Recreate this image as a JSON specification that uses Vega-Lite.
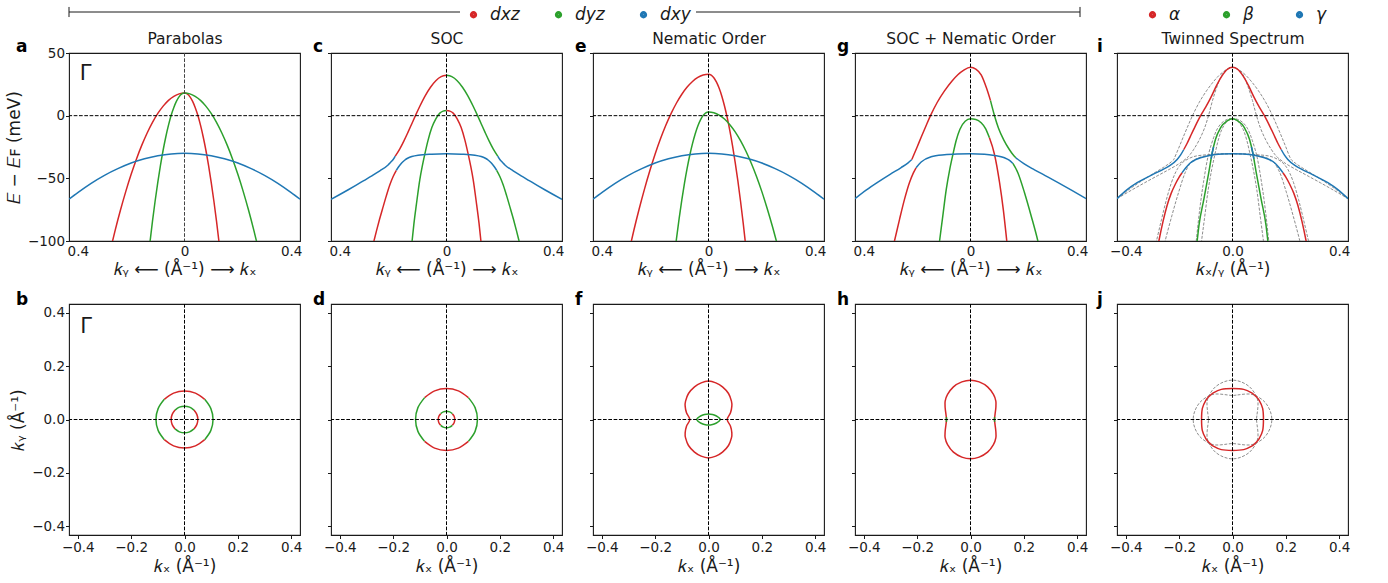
{
"$schema":"https://vega.github.io/schema/vega-lite/v6.json",
"background":"white",
"padding":{"left":4,"top":0,"right":5,"bottom":2},
"bounds":"flush",
"spacing":29,
"datasets":{
"A":[
{"s":"r","o":"dxz","k":-0.28,"E":-109},{"s":"r","o":"dxz","k":-0.26,"E":-91.5},{"s":"r","o":"dxz","k":-0.24,"E":-75.3},{"s":"r","o":"dxz","k":-0.22,"E":-60.4},{"s":"r","o":"dxz","k":-0.2,"E":-46.8},{"s":"r","o":"dxz","k":-0.18,"E":-34.5},{"s":"r","o":"dxz","k":-0.16,"E":-23.5},{"s":"r","o":"dxz","k":-0.14,"E":-13.8},{"s":"r","o":"dxz","k":-0.12,"E":-5.3},{"s":"r","o":"dxz","k":-0.1,"E":1.8},{"s":"r","o":"dxz","k":-0.08,"E":7.6},{"s":"r","o":"dxz","k":-0.06,"E":12.2},{"s":"r","o":"dxz","k":-0.04,"E":15.4},{"s":"r","o":"dxz","k":-0.02,"E":17.4},{"s":"r","o":"dxz","k":0,"E":18},{"s":"r","o":"dxz","k":0.01,"E":17.3},{"s":"r","o":"dxz","k":0.02,"E":15.2},{"s":"r","o":"dxz","k":0.03,"E":11.6},{"s":"r","o":"dxz","k":0.04,"E":6.6},{"s":"r","o":"dxz","k":0.05,"E":0.3},{"s":"r","o":"dxz","k":0.06,"E":-7.6},{"s":"r","o":"dxz","k":0.07,"E":-16.8},{"s":"r","o":"dxz","k":0.08,"E":-27.4},{"s":"r","o":"dxz","k":0.09,"E":-39.5},{"s":"r","o":"dxz","k":0.1,"E":-53},{"s":"r","o":"dxz","k":0.11,"E":-67.9},{"s":"r","o":"dxz","k":0.12,"E":-84.2},{"s":"r","o":"dxz","k":0.13,"E":-102},{"s":"r","o":"dxz","k":0.14,"E":-121},
{"s":"g","o":"dyz","k":-0.14,"E":-121},{"s":"g","o":"dyz","k":-0.13,"E":-102},{"s":"g","o":"dyz","k":-0.12,"E":-84.2},{"s":"g","o":"dyz","k":-0.11,"E":-67.9},{"s":"g","o":"dyz","k":-0.1,"E":-53},{"s":"g","o":"dyz","k":-0.09,"E":-39.5},{"s":"g","o":"dyz","k":-0.08,"E":-27.4},{"s":"g","o":"dyz","k":-0.07,"E":-16.8},{"s":"g","o":"dyz","k":-0.06,"E":-7.6},{"s":"g","o":"dyz","k":-0.05,"E":0.3},{"s":"g","o":"dyz","k":-0.04,"E":6.6},{"s":"g","o":"dyz","k":-0.03,"E":11.6},{"s":"g","o":"dyz","k":-0.02,"E":15.2},{"s":"g","o":"dyz","k":-0.01,"E":17.3},{"s":"g","o":"dyz","k":0,"E":18},{"s":"g","o":"dyz","k":0.02,"E":17.4},{"s":"g","o":"dyz","k":0.04,"E":15.4},{"s":"g","o":"dyz","k":0.06,"E":12.2},{"s":"g","o":"dyz","k":0.08,"E":7.6},{"s":"g","o":"dyz","k":0.1,"E":1.8},{"s":"g","o":"dyz","k":0.12,"E":-5.3},{"s":"g","o":"dyz","k":0.14,"E":-13.8},{"s":"g","o":"dyz","k":0.16,"E":-23.5},{"s":"g","o":"dyz","k":0.18,"E":-34.5},{"s":"g","o":"dyz","k":0.2,"E":-46.8},{"s":"g","o":"dyz","k":0.22,"E":-60.4},{"s":"g","o":"dyz","k":0.24,"E":-75.3},{"s":"g","o":"dyz","k":0.26,"E":-91.5},{"s":"g","o":"dyz","k":0.28,"E":-109},
{"s":"b","o":"dxy","k":-0.433,"E":-66.7},{"s":"b","o":"dxy","k":-0.4,"E":-61.4},{"s":"b","o":"dxy","k":-0.35,"E":-54},{"s":"b","o":"dxy","k":-0.3,"E":-47.6},{"s":"b","o":"dxy","k":-0.25,"E":-42.3},{"s":"b","o":"dxy","k":-0.2,"E":-37.8},{"s":"b","o":"dxy","k":-0.15,"E":-34.4},{"s":"b","o":"dxy","k":-0.1,"E":-32},{"s":"b","o":"dxy","k":-0.05,"E":-30.5},{"s":"b","o":"dxy","k":0,"E":-30},{"s":"b","o":"dxy","k":0.05,"E":-30.5},{"s":"b","o":"dxy","k":0.1,"E":-32},{"s":"b","o":"dxy","k":0.15,"E":-34.4},{"s":"b","o":"dxy","k":0.2,"E":-37.8},{"s":"b","o":"dxy","k":0.25,"E":-42.3},{"s":"b","o":"dxy","k":0.3,"E":-47.6},{"s":"b","o":"dxy","k":0.35,"E":-54},{"s":"b","o":"dxy","k":0.4,"E":-61.4},{"s":"b","o":"dxy","k":0.433,"E":-66.7}
],
"C":[
{"s":"c1a","o":"dxy","k":-0.433,"E":-66.8},{"s":"c1a","o":"dxy","k":-0.4,"E":-62.9},{"s":"c1a","o":"dxy","k":-0.37,"E":-59.3},{"s":"c1a","o":"dxy","k":-0.34,"E":-55.6},{"s":"c1a","o":"dxy","k":-0.31,"E":-51.8},{"s":"c1a","o":"dxy","k":-0.28,"E":-48},{"s":"c1a","o":"dxy","k":-0.25,"E":-44},{"s":"c1a","o":"dxy","k":-0.219,"E":-39.3},{"s":"c1a","o":"dxy","k":-0.21,"E":-37.3},{"s":"c1a","o":"dxy","k":-0.2,"E":-35},{"s":"c1a","o":"dxy","k":-0.192,"E":-32.3},
{"s":"c1b","o":"dxz","k":-0.192,"E":-32.3},{"s":"c1b","o":"dxz","k":-0.175,"E":-26.5},{"s":"c1b","o":"dxz","k":-0.16,"E":-20.3},{"s":"c1b","o":"dxz","k":-0.145,"E":-13.5},{"s":"c1b","o":"dxz","k":-0.13,"E":-6.4},{"s":"c1b","o":"dxz","k":-0.1165,"E":0},{"s":"c1b","o":"dxz","k":-0.1,"E":7.5},{"s":"c1b","o":"dxz","k":-0.08,"E":15.8},{"s":"c1b","o":"dxz","k":-0.06,"E":22.7},{"s":"c1b","o":"dxz","k":-0.04,"E":27.9},{"s":"c1b","o":"dxz","k":-0.02,"E":31.1},{"s":"c1b","o":"dxz","k":0,"E":32.2},
{"s":"c1c","o":"dyz","k":0,"E":32.2},{"s":"c1c","o":"dyz","k":0.02,"E":31.1},{"s":"c1c","o":"dyz","k":0.04,"E":27.9},{"s":"c1c","o":"dyz","k":0.06,"E":22.7},{"s":"c1c","o":"dyz","k":0.08,"E":15.8},{"s":"c1c","o":"dyz","k":0.1,"E":7.5},{"s":"c1c","o":"dyz","k":0.1165,"E":0},{"s":"c1c","o":"dyz","k":0.13,"E":-6.4},{"s":"c1c","o":"dyz","k":0.145,"E":-13.5},{"s":"c1c","o":"dyz","k":0.16,"E":-20.3},{"s":"c1c","o":"dyz","k":0.175,"E":-26.5},{"s":"c1c","o":"dyz","k":0.192,"E":-32.3},
{"s":"c1d","o":"dxy","k":0.192,"E":-32.3},{"s":"c1d","o":"dxy","k":0.2,"E":-35},{"s":"c1d","o":"dxy","k":0.21,"E":-37.3},{"s":"c1d","o":"dxy","k":0.219,"E":-39.3},{"s":"c1d","o":"dxy","k":0.25,"E":-44},{"s":"c1d","o":"dxy","k":0.28,"E":-48},{"s":"c1d","o":"dxy","k":0.31,"E":-51.8},{"s":"c1d","o":"dxy","k":0.34,"E":-55.6},{"s":"c1d","o":"dxy","k":0.37,"E":-59.3},{"s":"c1d","o":"dxy","k":0.4,"E":-62.9},{"s":"c1d","o":"dxy","k":0.433,"E":-66.8},
{"s":"c2a","o":"dyz","k":-0.136,"E":-114},{"s":"c2a","o":"dyz","k":-0.129,"E":-100},{"s":"c2a","o":"dyz","k":-0.122,"E":-86},{"s":"c2a","o":"dyz","k":-0.113,"E":-71},{"s":"c2a","o":"dyz","k":-0.1,"E":-51},{"s":"c2a","o":"dyz","k":-0.091,"E":-40.5},{"s":"c2a","o":"dyz","k":-0.0815,"E":-30.9},{"s":"c2a","o":"dyz","k":-0.069,"E":-19.5},{"s":"c2a","o":"dyz","k":-0.055,"E":-9.5},{"s":"c2a","o":"dyz","k":-0.04,"E":-2.5},{"s":"c2a","o":"dyz","k":-0.025,"E":2},{"s":"c2a","o":"dyz","k":-0.0125,"E":3.6},{"s":"c2a","o":"dyz","k":0,"E":4.1},
{"s":"c2b","o":"dxz","k":0,"E":4.1},{"s":"c2b","o":"dxz","k":0.0125,"E":3.6},{"s":"c2b","o":"dxz","k":0.025,"E":2},{"s":"c2b","o":"dxz","k":0.04,"E":-2.5},{"s":"c2b","o":"dxz","k":0.055,"E":-9.5},{"s":"c2b","o":"dxz","k":0.069,"E":-19.5},{"s":"c2b","o":"dxz","k":0.0815,"E":-30.9},{"s":"c2b","o":"dxz","k":0.091,"E":-40.5},{"s":"c2b","o":"dxz","k":0.1,"E":-51},{"s":"c2b","o":"dxz","k":0.113,"E":-71},{"s":"c2b","o":"dxz","k":0.122,"E":-86},{"s":"c2b","o":"dxz","k":0.129,"E":-100},{"s":"c2b","o":"dxz","k":0.136,"E":-114},
{"s":"c3a","o":"dxz","k":-0.282,"E":-109},{"s":"c3a","o":"dxz","k":-0.272,"E":-100},{"s":"c3a","o":"dxz","k":-0.262,"E":-91.5},{"s":"c3a","o":"dxz","k":-0.251,"E":-82.7},{"s":"c3a","o":"dxz","k":-0.238,"E":-73},{"s":"c3a","o":"dxz","k":-0.2256,"E":-64},{"s":"c3a","o":"dxz","k":-0.213,"E":-55.5},{"s":"c3a","o":"dxz","k":-0.2,"E":-48.5},{"s":"c3a","o":"dxz","k":-0.188,"E":-43.6},
{"s":"c3b","o":"dxy","k":-0.188,"E":-43.6},{"s":"c3b","o":"dxy","k":-0.18,"E":-41},{"s":"c3b","o":"dxy","k":-0.169,"E":-38},{"s":"c3b","o":"dxy","k":-0.157,"E":-35.6},{"s":"c3b","o":"dxy","k":-0.144,"E":-33.8},{"s":"c3b","o":"dxy","k":-0.13,"E":-32.6},{"s":"c3b","o":"dxy","k":-0.1065,"E":-31.5},{"s":"c3b","o":"dxy","k":-0.056,"E":-30.7},{"s":"c3b","o":"dxy","k":0,"E":-30.4},{"s":"c3b","o":"dxy","k":0.056,"E":-30.7},{"s":"c3b","o":"dxy","k":0.1065,"E":-31.5},{"s":"c3b","o":"dxy","k":0.13,"E":-32.6},{"s":"c3b","o":"dxy","k":0.144,"E":-33.8},{"s":"c3b","o":"dxy","k":0.157,"E":-35.6},{"s":"c3b","o":"dxy","k":0.169,"E":-38},{"s":"c3b","o":"dxy","k":0.18,"E":-41},{"s":"c3b","o":"dxy","k":0.188,"E":-43.6},
{"s":"c3c","o":"dyz","k":0.188,"E":-43.6},{"s":"c3c","o":"dyz","k":0.2,"E":-48.5},{"s":"c3c","o":"dyz","k":0.213,"E":-55.5},{"s":"c3c","o":"dyz","k":0.2256,"E":-64},{"s":"c3c","o":"dyz","k":0.238,"E":-73},{"s":"c3c","o":"dyz","k":0.251,"E":-82.7},{"s":"c3c","o":"dyz","k":0.262,"E":-91.5},{"s":"c3c","o":"dyz","k":0.272,"E":-100},{"s":"c3c","o":"dyz","k":0.282,"E":-109}
],
"E":[
{"s":"r","o":"dxz","k":-0.3,"E":-110.1},{"s":"r","o":"dxz","k":-0.28,"E":-91.6},{"s":"r","o":"dxz","k":-0.26,"E":-74.5},{"s":"r","o":"dxz","k":-0.24,"E":-58.6},{"s":"r","o":"dxz","k":-0.22,"E":-44},{"s":"r","o":"dxz","k":-0.2,"E":-30.6},{"s":"r","o":"dxz","k":-0.18,"E":-18.5},{"s":"r","o":"dxz","k":-0.16,"E":-7.7},{"s":"r","o":"dxz","k":-0.14,"E":1.8},{"s":"r","o":"dxz","k":-0.12,"E":10.1},{"s":"r","o":"dxz","k":-0.1,"E":17.1},{"s":"r","o":"dxz","k":-0.08,"E":22.8},{"s":"r","o":"dxz","k":-0.06,"E":27.3},{"s":"r","o":"dxz","k":-0.04,"E":30.5},{"s":"r","o":"dxz","k":-0.02,"E":32.4},{"s":"r","o":"dxz","k":0,"E":33},{"s":"r","o":"dxz","k":0.01,"E":32.3},{"s":"r","o":"dxz","k":0.02,"E":30.2},{"s":"r","o":"dxz","k":0.03,"E":26.7},{"s":"r","o":"dxz","k":0.04,"E":21.8},{"s":"r","o":"dxz","k":0.05,"E":15.5},{"s":"r","o":"dxz","k":0.06,"E":7.7},{"s":"r","o":"dxz","k":0.07,"E":-1.4},{"s":"r","o":"dxz","k":0.08,"E":-11.9},{"s":"r","o":"dxz","k":0.09,"E":-23.9},{"s":"r","o":"dxz","k":0.1,"E":-37.2},{"s":"r","o":"dxz","k":0.11,"E":-51.9},{"s":"r","o":"dxz","k":0.12,"E":-68.1},{"s":"r","o":"dxz","k":0.13,"E":-85.6},{"s":"r","o":"dxz","k":0.14,"E":-104.6},
{"s":"g","o":"dyz","k":-0.13,"E":-115.6},{"s":"g","o":"dyz","k":-0.12,"E":-98.1},{"s":"g","o":"dyz","k":-0.11,"E":-81.9},{"s":"g","o":"dyz","k":-0.1,"E":-67.2},{"s":"g","o":"dyz","k":-0.09,"E":-53.9},{"s":"g","o":"dyz","k":-0.08,"E":-41.9},{"s":"g","o":"dyz","k":-0.07,"E":-31.4},{"s":"g","o":"dyz","k":-0.06,"E":-22.3},{"s":"g","o":"dyz","k":-0.05,"E":-14.6},{"s":"g","o":"dyz","k":-0.04,"E":-8.2},{"s":"g","o":"dyz","k":-0.03,"E":-3.3},{"s":"g","o":"dyz","k":-0.02,"E":0.2},{"s":"g","o":"dyz","k":-0.01,"E":2.3},{"s":"g","o":"dyz","k":0,"E":3},{"s":"g","o":"dyz","k":0.02,"E":2.4},{"s":"g","o":"dyz","k":0.04,"E":0.5},{"s":"g","o":"dyz","k":0.06,"E":-2.7},{"s":"g","o":"dyz","k":0.08,"E":-7.2},{"s":"g","o":"dyz","k":0.1,"E":-12.9},{"s":"g","o":"dyz","k":0.12,"E":-19.9},{"s":"g","o":"dyz","k":0.14,"E":-28.2},{"s":"g","o":"dyz","k":0.16,"E":-37.7},{"s":"g","o":"dyz","k":0.18,"E":-48.5},{"s":"g","o":"dyz","k":0.2,"E":-60.6},{"s":"g","o":"dyz","k":0.22,"E":-74},{"s":"g","o":"dyz","k":0.24,"E":-88.6},{"s":"g","o":"dyz","k":0.26,"E":-104.5},
{"s":"b","o":"dxy","k":-0.433,"E":-66.7},{"s":"b","o":"dxy","k":-0.4,"E":-61.4},{"s":"b","o":"dxy","k":-0.35,"E":-54},{"s":"b","o":"dxy","k":-0.3,"E":-47.6},{"s":"b","o":"dxy","k":-0.25,"E":-42.3},{"s":"b","o":"dxy","k":-0.2,"E":-37.8},{"s":"b","o":"dxy","k":-0.15,"E":-34.4},{"s":"b","o":"dxy","k":-0.1,"E":-32},{"s":"b","o":"dxy","k":-0.05,"E":-30.5},{"s":"b","o":"dxy","k":0,"E":-30},{"s":"b","o":"dxy","k":0.05,"E":-30.5},{"s":"b","o":"dxy","k":0.1,"E":-32},{"s":"b","o":"dxy","k":0.15,"E":-34.4},{"s":"b","o":"dxy","k":0.2,"E":-37.8},{"s":"b","o":"dxy","k":0.25,"E":-42.3},{"s":"b","o":"dxy","k":0.3,"E":-47.6},{"s":"b","o":"dxy","k":0.35,"E":-54},{"s":"b","o":"dxy","k":0.4,"E":-61.4},{"s":"b","o":"dxy","k":0.433,"E":-66.7}
],
"G":[
{"s":"g1a","b":"b1","o":"dxy","k":-0.433,"E":-66.2},{"s":"g1a","b":"b1","o":"dxy","k":-0.39,"E":-59.2},{"s":"g1a","b":"b1","o":"dxy","k":-0.35,"E":-53.4},{"s":"g1a","b":"b1","o":"dxy","k":-0.3,"E":-46.6},{"s":"g1a","b":"b1","o":"dxy","k":-0.26,"E":-41.4},{"s":"g1a","b":"b1","o":"dxy","k":-0.235,"E":-37.8},{"s":"g1a","b":"b1","o":"dxy","k":-0.22,"E":-35},
{"s":"g1b","b":"b1","o":"dxz","k":-0.22,"E":-35},{"s":"g1b","b":"b1","o":"dxz","k":-0.2,"E":-25},{"s":"g1b","b":"b1","o":"dxz","k":-0.185,"E":-17.2},{"s":"g1b","b":"b1","o":"dxz","k":-0.165,"E":-7.2},{"s":"g1b","b":"b1","o":"dxz","k":-0.15,"E":0},{"s":"g1b","b":"b1","o":"dxz","k":-0.125,"E":10.5},{"s":"g1b","b":"b1","o":"dxz","k":-0.0975,"E":19.8},{"s":"g1b","b":"b1","o":"dxz","k":-0.07,"E":27.5},{"s":"g1b","b":"b1","o":"dxz","k":-0.0475,"E":32.7},{"s":"g1b","b":"b1","o":"dxz","k":-0.025,"E":36.4},{"s":"g1b","b":"b1","o":"dxz","k":0,"E":38.6},{"s":"g1b","b":"b1","o":"dxz","k":0.02,"E":37.2},{"s":"g1b","b":"b1","o":"dxz","k":0.04,"E":32.5},{"s":"g1b","b":"b1","o":"dxz","k":0.06,"E":22},{"s":"g1b","b":"b1","o":"dxz","k":0.075,"E":12},
{"s":"g1c","b":"b1","o":"dyz","k":0.075,"E":12},{"s":"g1c","b":"b1","o":"dyz","k":0.09,"E":0},{"s":"g1c","b":"b1","o":"dyz","k":0.105,"E":-10},{"s":"g1c","b":"b1","o":"dyz","k":0.125,"E":-19.5},{"s":"g1c","b":"b1","o":"dyz","k":0.145,"E":-26.8},{"s":"g1c","b":"b1","o":"dyz","k":0.159,"E":-31},{"s":"g1c","b":"b1","o":"dyz","k":0.17,"E":-33.6},
{"s":"g1d","b":"b1","o":"dxy","k":0.17,"E":-33.6},{"s":"g1d","b":"b1","o":"dxy","k":0.2,"E":-38.3},{"s":"g1d","b":"b1","o":"dxy","k":0.24,"E":-43.2},{"s":"g1d","b":"b1","o":"dxy","k":0.28,"E":-47.8},{"s":"g1d","b":"b1","o":"dxy","k":0.33,"E":-53.6},{"s":"g1d","b":"b1","o":"dxy","k":0.38,"E":-59.6},{"s":"g1d","b":"b1","o":"dxy","k":0.433,"E":-66.2},
{"s":"g2a","b":"b2","o":"dyz","k":-0.125,"E":-116},{"s":"g2a","b":"b2","o":"dyz","k":-0.116,"E":-100},{"s":"g2a","b":"b2","o":"dyz","k":-0.105,"E":-82},{"s":"g2a","b":"b2","o":"dyz","k":-0.091,"E":-59},{"s":"g2a","b":"b2","o":"dyz","k":-0.078,"E":-43},{"s":"g2a","b":"b2","o":"dyz","k":-0.066,"E":-31},{"s":"g2a","b":"b2","o":"dyz","k":-0.054,"E":-20},{"s":"g2a","b":"b2","o":"dyz","k":-0.04,"E":-11},{"s":"g2a","b":"b2","o":"dyz","k":-0.02,"E":-4.5},{"s":"g2a","b":"b2","o":"dyz","k":0,"E":-2.5},{"s":"g2a","b":"b2","o":"dyz","k":0.02,"E":-3},{"s":"g2a","b":"b2","o":"dyz","k":0.04,"E":-5.7},{"s":"g2a","b":"b2","o":"dyz","k":0.057,"E":-10.5},{"s":"g2a","b":"b2","o":"dyz","k":0.071,"E":-17.7},
{"s":"g2b","b":"b2","o":"dxz","k":0.071,"E":-17.7},{"s":"g2b","b":"b2","o":"dxz","k":0.09,"E":-31},{"s":"g2b","b":"b2","o":"dxz","k":0.109,"E":-53.5},{"s":"g2b","b":"b2","o":"dxz","k":0.123,"E":-75},{"s":"g2b","b":"b2","o":"dxz","k":0.136,"E":-100},{"s":"g2b","b":"b2","o":"dxz","k":0.145,"E":-118},
{"s":"g3a","b":"b3","o":"dxz","k":-0.295,"E":-109},{"s":"g3a","b":"b3","o":"dxz","k":-0.285,"E":-100},{"s":"g3a","b":"b3","o":"dxz","k":-0.266,"E":-82.7},{"s":"g3a","b":"b3","o":"dxz","k":-0.2475,"E":-66.8},{"s":"g3a","b":"b3","o":"dxz","k":-0.229,"E":-53.5},{"s":"g3a","b":"b3","o":"dxz","k":-0.215,"E":-46},{"s":"g3a","b":"b3","o":"dxz","k":-0.204,"E":-41.6},
{"s":"g3b","b":"b3","o":"dxy","k":-0.204,"E":-41.6},{"s":"g3b","b":"b3","o":"dxy","k":-0.185,"E":-37},{"s":"g3b","b":"b3","o":"dxy","k":-0.1475,"E":-32.8},{"s":"g3b","b":"b3","o":"dxy","k":-0.0975,"E":-31.2},{"s":"g3b","b":"b3","o":"dxy","k":-0.05,"E":-30.6},{"s":"g3b","b":"b3","o":"dxy","k":0,"E":-30.4},{"s":"g3b","b":"b3","o":"dxy","k":0.0525,"E":-30.7},{"s":"g3b","b":"b3","o":"dxy","k":0.09,"E":-31.7},{"s":"g3b","b":"b3","o":"dxy","k":0.1275,"E":-33.6},{"s":"g3b","b":"b3","o":"dxy","k":0.145,"E":-35.5},{"s":"g3b","b":"b3","o":"dxy","k":0.159,"E":-38.1},
{"s":"g3c","b":"b3","o":"dyz","k":0.159,"E":-38.1},{"s":"g3c","b":"b3","o":"dyz","k":0.1775,"E":-45.5},{"s":"g3c","b":"b3","o":"dyz","k":0.2025,"E":-61.5},{"s":"g3c","b":"b3","o":"dyz","k":0.2275,"E":-80},{"s":"g3c","b":"b3","o":"dyz","k":0.2525,"E":-100},{"s":"g3c","b":"b3","o":"dyz","k":0.262,"E":-109}
],
"GM":[
{"b":"m1","k":0.433,"E":-66.2},{"b":"m1","k":0.39,"E":-59.2},{"b":"m1","k":0.35,"E":-53.4},{"b":"m1","k":0.3,"E":-46.6},{"b":"m1","k":0.26,"E":-41.4},{"b":"m1","k":0.235,"E":-37.8},{"b":"m1","k":0.22,"E":-35},{"b":"m1","k":0.2,"E":-25},{"b":"m1","k":0.185,"E":-17.2},{"b":"m1","k":0.165,"E":-7.2},{"b":"m1","k":0.15,"E":0},{"b":"m1","k":0.125,"E":10.5},{"b":"m1","k":0.0975,"E":19.8},{"b":"m1","k":0.07,"E":27.5},{"b":"m1","k":0.0475,"E":32.7},{"b":"m1","k":0.025,"E":36.4},{"b":"m1","k":0,"E":38.6},{"b":"m1","k":-0.02,"E":37.2},{"b":"m1","k":-0.04,"E":32.5},{"b":"m1","k":-0.06,"E":22},{"b":"m1","k":-0.075,"E":12},{"b":"m1","k":-0.09,"E":0},{"b":"m1","k":-0.105,"E":-10},{"b":"m1","k":-0.125,"E":-19.5},{"b":"m1","k":-0.145,"E":-26.8},{"b":"m1","k":-0.159,"E":-31},{"b":"m1","k":-0.17,"E":-33.6},{"b":"m1","k":-0.2,"E":-38.3},{"b":"m1","k":-0.24,"E":-43.2},{"b":"m1","k":-0.28,"E":-47.8},{"b":"m1","k":-0.33,"E":-53.6},{"b":"m1","k":-0.38,"E":-59.6},{"b":"m1","k":-0.433,"E":-66.2},
{"b":"m2","k":0.125,"E":-116},{"b":"m2","k":0.116,"E":-100},{"b":"m2","k":0.105,"E":-82},{"b":"m2","k":0.091,"E":-59},{"b":"m2","k":0.078,"E":-43},{"b":"m2","k":0.066,"E":-31},{"b":"m2","k":0.054,"E":-20},{"b":"m2","k":0.04,"E":-11},{"b":"m2","k":0.02,"E":-4.5},{"b":"m2","k":0,"E":-2.5},{"b":"m2","k":-0.02,"E":-3},{"b":"m2","k":-0.04,"E":-5.7},{"b":"m2","k":-0.057,"E":-10.5},{"b":"m2","k":-0.071,"E":-17.7},{"b":"m2","k":-0.09,"E":-31},{"b":"m2","k":-0.109,"E":-53.5},{"b":"m2","k":-0.123,"E":-75},{"b":"m2","k":-0.136,"E":-100},{"b":"m2","k":-0.145,"E":-118},
{"b":"m3","k":0.295,"E":-109},{"b":"m3","k":0.285,"E":-100},{"b":"m3","k":0.266,"E":-82.7},{"b":"m3","k":0.2475,"E":-66.8},{"b":"m3","k":0.229,"E":-53.5},{"b":"m3","k":0.215,"E":-46},{"b":"m3","k":0.204,"E":-41.6},{"b":"m3","k":0.185,"E":-37},{"b":"m3","k":0.1475,"E":-32.8},{"b":"m3","k":0.0975,"E":-31.2},{"b":"m3","k":0.05,"E":-30.6},{"b":"m3","k":0,"E":-30.4},{"b":"m3","k":-0.0525,"E":-30.7},{"b":"m3","k":-0.09,"E":-31.7},{"b":"m3","k":-0.1275,"E":-33.6},{"b":"m3","k":-0.145,"E":-35.5},{"b":"m3","k":-0.159,"E":-38.1},{"b":"m3","k":-0.1775,"E":-45.5},{"b":"m3","k":-0.2025,"E":-61.5},{"b":"m3","k":-0.2275,"E":-80},{"b":"m3","k":-0.2525,"E":-100},{"b":"m3","k":-0.262,"E":-109}
],
"I":[
{"s":"ia1","o":"γ","k":-0.433,"E":-66.2},{"s":"ia1","o":"γ","k":-0.395,"E":-59},{"s":"ia1","o":"γ","k":-0.3575,"E":-53.5},{"s":"ia1","o":"γ","k":-0.295,"E":-46.5},{"s":"ia1","o":"γ","k":-0.26,"E":-42.8},{"s":"ia1","o":"γ","k":-0.2325,"E":-39.5},{"s":"ia1","o":"γ","k":-0.2075,"E":-34.9},{"s":"ia1","o":"γ","k":-0.195,"E":-31.5},{"s":"ia1","o":"γ","k":-0.1825,"E":-27},
{"s":"ia2","o":"α","k":-0.1825,"E":-27},{"s":"ia2","o":"α","k":-0.17,"E":-22},{"s":"ia2","o":"α","k":-0.1575,"E":-16.3},{"s":"ia2","o":"α","k":-0.14,"E":-8.5},{"s":"ia2","o":"α","k":-0.12,"E":-0.2},{"s":"ia2","o":"α","k":-0.1,"E":7},{"s":"ia2","o":"α","k":-0.08,"E":15},{"s":"ia2","o":"α","k":-0.06,"E":24},{"s":"ia2","o":"α","k":-0.04,"E":31.5},{"s":"ia2","o":"α","k":-0.02,"E":36.8},{"s":"ia2","o":"α","k":0,"E":38.6},{"s":"ia2","o":"α","k":0.02,"E":36.8},{"s":"ia2","o":"α","k":0.04,"E":31.5},{"s":"ia2","o":"α","k":0.06,"E":24},{"s":"ia2","o":"α","k":0.08,"E":15},{"s":"ia2","o":"α","k":0.1,"E":7},{"s":"ia2","o":"α","k":0.12,"E":-0.2},{"s":"ia2","o":"α","k":0.14,"E":-8.5},{"s":"ia2","o":"α","k":0.1575,"E":-16.3},{"s":"ia2","o":"α","k":0.17,"E":-22},{"s":"ia2","o":"α","k":0.1825,"E":-27},
{"s":"ia3","o":"γ","k":0.1825,"E":-27},{"s":"ia3","o":"γ","k":0.195,"E":-31.5},{"s":"ia3","o":"γ","k":0.2075,"E":-34.9},{"s":"ia3","o":"γ","k":0.2325,"E":-39.5},{"s":"ia3","o":"γ","k":0.26,"E":-42.8},{"s":"ia3","o":"γ","k":0.295,"E":-46.5},{"s":"ia3","o":"γ","k":0.3575,"E":-53.5},{"s":"ia3","o":"γ","k":0.395,"E":-59},{"s":"ia3","o":"γ","k":0.433,"E":-66.2},
{"s":"ib","o":"β","k":-0.14,"E":-112},{"s":"ib","o":"β","k":-0.1325,"E":-100},{"s":"ib","o":"β","k":-0.126,"E":-88},{"s":"ib","o":"β","k":-0.1075,"E":-66.8},{"s":"ib","o":"β","k":-0.089,"E":-45.5},{"s":"ib","o":"β","k":-0.076,"E":-29.6},{"s":"ib","o":"β","k":-0.064,"E":-19},{"s":"ib","o":"β","k":-0.045,"E":-9.7},{"s":"ib","o":"β","k":-0.02,"E":-4.2},{"s":"ib","o":"β","k":0,"E":-2.5},{"s":"ib","o":"β","k":0.02,"E":-4.2},{"s":"ib","o":"β","k":0.045,"E":-9.7},{"s":"ib","o":"β","k":0.064,"E":-19},{"s":"ib","o":"β","k":0.076,"E":-29.6},{"s":"ib","o":"β","k":0.089,"E":-45.5},{"s":"ib","o":"β","k":0.1075,"E":-66.8},{"s":"ib","o":"β","k":0.126,"E":-88},{"s":"ib","o":"β","k":0.1325,"E":-100},{"s":"ib","o":"β","k":0.14,"E":-112},
{"s":"ig1","o":"α","k":-0.285,"E":-110},{"s":"ig1","o":"α","k":-0.276,"E":-100},{"s":"ig1","o":"α","k":-0.26,"E":-84},{"s":"ig1","o":"α","k":-0.245,"E":-71.5},{"s":"ig1","o":"α","k":-0.23,"E":-62},{"s":"ig1","o":"α","k":-0.214,"E":-54.5},{"s":"ig1","o":"α","k":-0.2,"E":-49},{"s":"ig1","o":"α","k":-0.189,"E":-45.5},
{"s":"ig2","o":"γ","k":-0.189,"E":-45.5},{"s":"ig2","o":"γ","k":-0.175,"E":-41.5},{"s":"ig2","o":"γ","k":-0.1575,"E":-37.6},{"s":"ig2","o":"γ","k":-0.14,"E":-35.3},{"s":"ig2","o":"γ","k":-0.12,"E":-33.6},{"s":"ig2","o":"γ","k":-0.0825,"E":-31.5},{"s":"ig2","o":"γ","k":-0.04,"E":-30.6},{"s":"ig2","o":"γ","k":0,"E":-30.4},{"s":"ig2","o":"γ","k":0.04,"E":-30.6},{"s":"ig2","o":"γ","k":0.0825,"E":-31.5},{"s":"ig2","o":"γ","k":0.12,"E":-33.6},{"s":"ig2","o":"γ","k":0.14,"E":-35.3},{"s":"ig2","o":"γ","k":0.1575,"E":-37.6},{"s":"ig2","o":"γ","k":0.175,"E":-41.5},{"s":"ig2","o":"γ","k":0.189,"E":-45.5},
{"s":"ig3","o":"α","k":0.189,"E":-45.5},{"s":"ig3","o":"α","k":0.2,"E":-49},{"s":"ig3","o":"α","k":0.214,"E":-54.5},{"s":"ig3","o":"α","k":0.23,"E":-62},{"s":"ig3","o":"α","k":0.245,"E":-71.5},{"s":"ig3","o":"α","k":0.26,"E":-84},{"s":"ig3","o":"α","k":0.276,"E":-100},{"s":"ig3","o":"α","k":0.285,"E":-110},
{"s":"ibx1","o":"γ","k":-0.08,"E":-34.5},{"s":"ibx1","o":"γ","k":-0.076,"E":-29.6},{"s":"ibx1","o":"γ","k":-0.071,"E":-25},
{"s":"ibx2","o":"γ","k":0.071,"E":-25},{"s":"ibx2","o":"γ","k":0.076,"E":-29.6},{"s":"ibx2","o":"γ","k":0.08,"E":-34.5}
],
"B":[
{"s":"o1","o":"dyz","n":0,"x":0.0757,"y":-0.0757},{"s":"o1","o":"dyz","n":1,"x":0.0989,"y":-0.0409},{"s":"o1","o":"dyz","n":2,"x":0.107,"y":0},{"s":"o1","o":"dyz","n":3,"x":0.0989,"y":0.0409},{"s":"o1","o":"dyz","n":4,"x":0.0757,"y":0.0757},
{"s":"o2","o":"dxz","n":0,"x":0.0757,"y":0.0757},{"s":"o2","o":"dxz","n":1,"x":0.0409,"y":0.0989},{"s":"o2","o":"dxz","n":2,"x":0,"y":0.107},{"s":"o2","o":"dxz","n":3,"x":-0.0409,"y":0.0989},{"s":"o2","o":"dxz","n":4,"x":-0.0757,"y":0.0757},
{"s":"o3","o":"dyz","n":0,"x":-0.0757,"y":0.0757},{"s":"o3","o":"dyz","n":1,"x":-0.0989,"y":0.0409},{"s":"o3","o":"dyz","n":2,"x":-0.107,"y":0},{"s":"o3","o":"dyz","n":3,"x":-0.0989,"y":-0.0409},{"s":"o3","o":"dyz","n":4,"x":-0.0757,"y":-0.0757},
{"s":"o4","o":"dxz","n":0,"x":-0.0757,"y":-0.0757},{"s":"o4","o":"dxz","n":1,"x":-0.0409,"y":-0.0989},{"s":"o4","o":"dxz","n":2,"x":0,"y":-0.107},{"s":"o4","o":"dxz","n":3,"x":0.0409,"y":-0.0989},{"s":"o4","o":"dxz","n":4,"x":0.0757,"y":-0.0757},
{"s":"i1","o":"dxz","n":0,"x":0.0354,"y":-0.0354},{"s":"i1","o":"dxz","n":1,"x":0.0462,"y":-0.0191},{"s":"i1","o":"dxz","n":2,"x":0.05,"y":0},{"s":"i1","o":"dxz","n":3,"x":0.0462,"y":0.0191},{"s":"i1","o":"dxz","n":4,"x":0.0354,"y":0.0354},
{"s":"i2","o":"dyz","n":0,"x":0.0354,"y":0.0354},{"s":"i2","o":"dyz","n":1,"x":0.0191,"y":0.0462},{"s":"i2","o":"dyz","n":2,"x":0,"y":0.05},{"s":"i2","o":"dyz","n":3,"x":-0.0191,"y":0.0462},{"s":"i2","o":"dyz","n":4,"x":-0.0354,"y":0.0354},
{"s":"i3","o":"dxz","n":0,"x":-0.0354,"y":0.0354},{"s":"i3","o":"dxz","n":1,"x":-0.0462,"y":0.0191},{"s":"i3","o":"dxz","n":2,"x":-0.05,"y":0},{"s":"i3","o":"dxz","n":3,"x":-0.0462,"y":-0.0191},{"s":"i3","o":"dxz","n":4,"x":-0.0354,"y":-0.0354},
{"s":"i4","o":"dyz","n":0,"x":-0.0354,"y":-0.0354},{"s":"i4","o":"dyz","n":1,"x":-0.0191,"y":-0.0462},{"s":"i4","o":"dyz","n":2,"x":0,"y":-0.05},{"s":"i4","o":"dyz","n":3,"x":0.0191,"y":-0.0462},{"s":"i4","o":"dyz","n":4,"x":0.0354,"y":-0.0354}
],
"D":[
{"s":"o1","o":"dyz","n":0,"x":0.082,"y":-0.082},{"s":"o1","o":"dyz","n":1,"x":0.1072,"y":-0.0444},{"s":"o1","o":"dyz","n":2,"x":0.116,"y":0},{"s":"o1","o":"dyz","n":3,"x":0.1072,"y":0.0444},{"s":"o1","o":"dyz","n":4,"x":0.082,"y":0.082},
{"s":"o2","o":"dxz","n":0,"x":0.082,"y":0.082},{"s":"o2","o":"dxz","n":1,"x":0.0444,"y":0.1072},{"s":"o2","o":"dxz","n":2,"x":0,"y":0.116},{"s":"o2","o":"dxz","n":3,"x":-0.0444,"y":0.1072},{"s":"o2","o":"dxz","n":4,"x":-0.082,"y":0.082},
{"s":"o3","o":"dyz","n":0,"x":-0.082,"y":0.082},{"s":"o3","o":"dyz","n":1,"x":-0.1072,"y":0.0444},{"s":"o3","o":"dyz","n":2,"x":-0.116,"y":0},{"s":"o3","o":"dyz","n":3,"x":-0.1072,"y":-0.0444},{"s":"o3","o":"dyz","n":4,"x":-0.082,"y":-0.082},
{"s":"o4","o":"dxz","n":0,"x":-0.082,"y":-0.082},{"s":"o4","o":"dxz","n":1,"x":-0.0444,"y":-0.1072},{"s":"o4","o":"dxz","n":2,"x":0,"y":-0.116},{"s":"o4","o":"dxz","n":3,"x":0.0444,"y":-0.1072},{"s":"o4","o":"dxz","n":4,"x":0.082,"y":-0.082},
{"s":"i1","o":"dxz","n":0,"x":0.0219,"y":-0.0219},{"s":"i1","o":"dxz","n":1,"x":0.0286,"y":-0.0119},{"s":"i1","o":"dxz","n":2,"x":0.031,"y":0},{"s":"i1","o":"dxz","n":3,"x":0.0286,"y":0.0119},{"s":"i1","o":"dxz","n":4,"x":0.0219,"y":0.0219},
{"s":"i2","o":"dyz","n":0,"x":0.0219,"y":0.0219},{"s":"i2","o":"dyz","n":1,"x":0.0119,"y":0.0286},{"s":"i2","o":"dyz","n":2,"x":0,"y":0.031},{"s":"i2","o":"dyz","n":3,"x":-0.0119,"y":0.0286},{"s":"i2","o":"dyz","n":4,"x":-0.0219,"y":0.0219},
{"s":"i3","o":"dxz","n":0,"x":-0.0219,"y":0.0219},{"s":"i3","o":"dxz","n":1,"x":-0.0286,"y":0.0119},{"s":"i3","o":"dxz","n":2,"x":-0.031,"y":0},{"s":"i3","o":"dxz","n":3,"x":-0.0286,"y":-0.0119},{"s":"i3","o":"dxz","n":4,"x":-0.0219,"y":-0.0219},
{"s":"i4","o":"dyz","n":0,"x":-0.0219,"y":-0.0219},{"s":"i4","o":"dyz","n":1,"x":-0.0119,"y":-0.0286},{"s":"i4","o":"dyz","n":2,"x":0,"y":-0.031},{"s":"i4","o":"dyz","n":3,"x":0.0119,"y":-0.0286},{"s":"i4","o":"dyz","n":4,"x":0.0219,"y":-0.0219}
],
"F":[
{"s":"p","o":"dxz","n":0,"x":0.07,"y":0},{"s":"p","o":"dxz","n":1,"x":0.0825,"y":0.025},{"s":"p","o":"dxz","n":2,"x":0.0875,"y":0.05},{"s":"p","o":"dxz","n":3,"x":0.086,"y":0.069},{"s":"p","o":"dxz","n":4,"x":0.075,"y":0.0975},{"s":"p","o":"dxz","n":5,"x":0.0525,"y":0.1225},{"s":"p","o":"dxz","n":6,"x":0.0275,"y":0.1375},{"s":"p","o":"dxz","n":7,"x":0,"y":0.144},{"s":"p","o":"dxz","n":8,"x":-0.0275,"y":0.1375},{"s":"p","o":"dxz","n":9,"x":-0.0525,"y":0.1225},{"s":"p","o":"dxz","n":10,"x":-0.075,"y":0.0975},{"s":"p","o":"dxz","n":11,"x":-0.086,"y":0.069},{"s":"p","o":"dxz","n":12,"x":-0.0875,"y":0.05},{"s":"p","o":"dxz","n":13,"x":-0.0825,"y":0.025},{"s":"p","o":"dxz","n":14,"x":-0.07,"y":0},{"s":"p","o":"dxz","n":15,"x":-0.0825,"y":-0.025},{"s":"p","o":"dxz","n":16,"x":-0.0875,"y":-0.05},{"s":"p","o":"dxz","n":17,"x":-0.086,"y":-0.069},{"s":"p","o":"dxz","n":18,"x":-0.075,"y":-0.0975},{"s":"p","o":"dxz","n":19,"x":-0.0525,"y":-0.1225},{"s":"p","o":"dxz","n":20,"x":-0.0275,"y":-0.1375},{"s":"p","o":"dxz","n":21,"x":0,"y":-0.144},{"s":"p","o":"dxz","n":22,"x":0.0275,"y":-0.1375},{"s":"p","o":"dxz","n":23,"x":0.0525,"y":-0.1225},{"s":"p","o":"dxz","n":24,"x":0.075,"y":-0.0975},{"s":"p","o":"dxz","n":25,"x":0.086,"y":-0.069},{"s":"p","o":"dxz","n":26,"x":0.0875,"y":-0.05},{"s":"p","o":"dxz","n":27,"x":0.0825,"y":-0.025},
{"s":"e","o":"dyz","n":0,"x":0.044,"y":0},{"s":"e","o":"dyz","n":1,"x":0.038,"y":0.0075},{"s":"e","o":"dyz","n":2,"x":0.028,"y":0.014},{"s":"e","o":"dyz","n":3,"x":0.015,"y":0.019},{"s":"e","o":"dyz","n":4,"x":0,"y":0.021},{"s":"e","o":"dyz","n":5,"x":-0.015,"y":0.019},{"s":"e","o":"dyz","n":6,"x":-0.028,"y":0.014},{"s":"e","o":"dyz","n":7,"x":-0.038,"y":0.0075},{"s":"e","o":"dyz","n":8,"x":-0.044,"y":0},{"s":"e","o":"dyz","n":9,"x":-0.038,"y":-0.0075},{"s":"e","o":"dyz","n":10,"x":-0.028,"y":-0.014},{"s":"e","o":"dyz","n":11,"x":-0.015,"y":-0.019},{"s":"e","o":"dyz","n":12,"x":0,"y":-0.021},{"s":"e","o":"dyz","n":13,"x":0.015,"y":-0.019},{"s":"e","o":"dyz","n":14,"x":0.028,"y":-0.014},{"s":"e","o":"dyz","n":15,"x":0.038,"y":-0.0075}
],
"H":[
{"s":"c","o":"dxz","n":0,"x":0.09,"y":0},{"s":"c","o":"dxz","n":1,"x":0.092,"y":0.019},{"s":"c","o":"dxz","n":2,"x":0.095,"y":0.044},{"s":"c","o":"dxz","n":3,"x":0.095,"y":0.069},{"s":"c","o":"dxz","n":4,"x":0.086,"y":0.094},{"s":"c","o":"dxz","n":5,"x":0.064,"y":0.1225},{"s":"c","o":"dxz","n":6,"x":0.0325,"y":0.141},{"s":"c","o":"dxz","n":7,"x":0,"y":0.1475},{"s":"c","o":"dxz","n":8,"x":-0.0325,"y":0.141},{"s":"c","o":"dxz","n":9,"x":-0.064,"y":0.1225},{"s":"c","o":"dxz","n":10,"x":-0.086,"y":0.094},{"s":"c","o":"dxz","n":11,"x":-0.095,"y":0.069},{"s":"c","o":"dxz","n":12,"x":-0.095,"y":0.044},{"s":"c","o":"dxz","n":13,"x":-0.092,"y":0.019},{"s":"c","o":"dxz","n":14,"x":-0.09,"y":0},{"s":"c","o":"dxz","n":15,"x":-0.092,"y":-0.019},{"s":"c","o":"dxz","n":16,"x":-0.095,"y":-0.044},{"s":"c","o":"dxz","n":17,"x":-0.095,"y":-0.069},{"s":"c","o":"dxz","n":18,"x":-0.086,"y":-0.094},{"s":"c","o":"dxz","n":19,"x":-0.064,"y":-0.1225},{"s":"c","o":"dxz","n":20,"x":-0.0325,"y":-0.141},{"s":"c","o":"dxz","n":21,"x":0,"y":-0.1475},{"s":"c","o":"dxz","n":22,"x":0.0325,"y":-0.141},{"s":"c","o":"dxz","n":23,"x":0.064,"y":-0.1225},{"s":"c","o":"dxz","n":24,"x":0.086,"y":-0.094},{"s":"c","o":"dxz","n":25,"x":0.095,"y":-0.069},{"s":"c","o":"dxz","n":26,"x":0.095,"y":-0.044},{"s":"c","o":"dxz","n":27,"x":0.092,"y":-0.019}
],
"H2":[
{"s":"r","o":"dyz","n":0,"x":0.0905,"y":-0.009},{"s":"r","o":"dyz","n":1,"x":0.09,"y":0},{"s":"r","o":"dyz","n":2,"x":0.0905,"y":0.009},
{"s":"l","o":"dyz","n":0,"x":-0.0905,"y":-0.009},{"s":"l","o":"dyz","n":1,"x":-0.09,"y":0},{"s":"l","o":"dyz","n":2,"x":-0.0905,"y":0.009}
],
"J":[
{"s":"q","o":"α","n":0,"x":0.116,"y":0},{"s":"q","o":"α","n":1,"x":0.113,"y":0.042},{"s":"q","o":"α","n":2,"x":0.1,"y":0.072},{"s":"q","o":"α","n":3,"x":0.087,"y":0.087},{"s":"q","o":"α","n":4,"x":0.072,"y":0.1},{"s":"q","o":"α","n":5,"x":0.042,"y":0.113},{"s":"q","o":"α","n":6,"x":0,"y":0.116},{"s":"q","o":"α","n":7,"x":-0.042,"y":0.113},{"s":"q","o":"α","n":8,"x":-0.072,"y":0.1},{"s":"q","o":"α","n":9,"x":-0.087,"y":0.087},{"s":"q","o":"α","n":10,"x":-0.1,"y":0.072},{"s":"q","o":"α","n":11,"x":-0.113,"y":0.042},{"s":"q","o":"α","n":12,"x":-0.116,"y":0},{"s":"q","o":"α","n":13,"x":-0.113,"y":-0.042},{"s":"q","o":"α","n":14,"x":-0.1,"y":-0.072},{"s":"q","o":"α","n":15,"x":-0.087,"y":-0.087},{"s":"q","o":"α","n":16,"x":-0.072,"y":-0.1},{"s":"q","o":"α","n":17,"x":-0.042,"y":-0.113},{"s":"q","o":"α","n":18,"x":0,"y":-0.116},{"s":"q","o":"α","n":19,"x":0.042,"y":-0.113},{"s":"q","o":"α","n":20,"x":0.072,"y":-0.1},{"s":"q","o":"α","n":21,"x":0.087,"y":-0.087},{"s":"q","o":"α","n":22,"x":0.1,"y":-0.072},{"s":"q","o":"α","n":23,"x":0.113,"y":-0.042}
]
},
"vconcat":[
{"width":1011,"height":24,"view":{"stroke":null},"data":{"values":[{}]},
 "layer":[
  {"mark":{"type":"rule","color":"#1a1a1a","strokeWidth":1},"encoding":{"x":{"datum":0,"type":"quantitative","scale":{"domain":[0,1]},"axis":null},"x2":{"datum":1},"y":{"datum":0.5,"type":"quantitative","scale":{"domain":[0,1]},"axis":null}}},
  {"mark":{"type":"rule","color":"#1a1a1a","strokeWidth":1},"encoding":{"x":{"datum":0,"type":"quantitative","axis":null},"y":{"datum":0.29,"type":"quantitative","axis":null},"y2":{"datum":0.71}}},
  {"mark":{"type":"rule","color":"#1a1a1a","strokeWidth":1},"encoding":{"x":{"datum":1,"type":"quantitative","axis":null},"y":{"datum":0.29,"type":"quantitative","axis":null},"y2":{"datum":0.71}}}
 ]},
{"columns":5,"bounds":"flush","spacing":{"row":63,"column":31},
 "concat":[
 {"width":231,"height":188,"title":{"text":"a","dx":-53,"dy":29},"resolve":{"axis":{"x":"independent"}},
  "layer":[
   {"data":{"name":"A"},"mark":{"type":"line","interpolate":"monotone","clip":true},
    "encoding":{"x":{"field":"k","type":"quantitative","scale":{"domain":[-0.433,0.433],"nice":false,"zero":false},"axis":{"values":[-0.4,0,0.4],"ticks":false,"labelPadding":3,"labelExpr":"datum.value == 0 ? '0' : '0.4'","title":"𝑘ᵧ ⟵ (Å⁻¹) ⟶ 𝑘ₓ"}},
     "y":{"field":"E","type":"quantitative","scale":{"domain":[-100,50],"nice":false,"zero":false},"axis":{"values":[50,0,-50,-100],"title":"𝐸 − 𝐸ꜰ (meV)"}},
     "color":{"field":"o","type":"nominal","scale":{"domain":["dxz","dyz","dxy"],"range":["#d62728","#2ca02c","#1f77b4"]},
      "legend":{"title":null,"orient":"none","legendX":391,"legendY":1,"direction":"horizontal","symbolType":"M-0.58,0a0.58,0.58 0 1,0 1.16,0a0.58,0.58 0 1,0 -1.16,0M-0.4,0a0.4,0.4 0 1,0 0.8,0a0.4,0.4 0 1,0 -0.8,0M-0.22,0a0.22,0.22 0 1,0 0.44,0a0.22,0.22 0 1,0 -0.44,0M-0.06,0a0.06,0.06 0 1,0 0.12,0a0.06,0.06 0 1,0 -0.12,0","symbolSize":100,"symbolStrokeWidth":1.5,"labelFontSize":17,"labelFontStyle":"italic","labelOffset":8,"columnPadding":30,"padding":5,"fillColor":"white","labelColor":"#1a1a1a"}},
     "strokeWidth":{"value":1.5},
     "detail":{"field":"s"}}},
   {"data":{"values":[{}]},"mark":{"type":"rule","strokeDash":[3.7,1.6],"color":"#444","strokeWidth":1},"encoding":{"x":{"datum":0,"type":"quantitative","axis":{"orient":"top","ticks":false,"labels":false,"title":"Parabolas","titlePadding":7,"titleFontSize":15.5}}}},
   {"data":{"values":[{}]},"mark":{"type":"rule","strokeDash":[3.7,1.6],"color":"#000","strokeWidth":1},"encoding":{"y":{"datum":0,"type":"quantitative"}}},
   {"data":{"values":[{}]},"mark":{"type":"text","text":"Γ","fontSize":21,"color":"#1a1a1a"},"encoding":{"x":{"datum":-0.371,"type":"quantitative","axis":null},"y":{"datum":33.5,"type":"quantitative"}}}
  ]},
 {"width":231,"height":188,"title":{"text":"c","dx":-18,"dy":29},"resolve":{"axis":{"x":"independent"}},
  "layer":[
   {"data":{"name":"C"},"mark":{"type":"line","interpolate":"monotone","clip":true,"strokeWidth":1.5},
    "encoding":{"x":{"field":"k","type":"quantitative","scale":{"domain":[-0.433,0.433],"nice":false,"zero":false},"axis":{"values":[-0.4,0,0.4],"ticks":false,"labelPadding":3,"labelExpr":"datum.value == 0 ? '0' : '0.4'","title":"𝑘ᵧ ⟵ (Å⁻¹) ⟶ 𝑘ₓ"}},
     "y":{"field":"E","type":"quantitative","scale":{"domain":[-100,50],"nice":false,"zero":false},"axis":{"values":[50,0,-50,-100],"labels":false,"title":null}},
     "color":{"field":"o","type":"nominal","scale":{"domain":["dxz","dyz","dxy"],"range":["#d62728","#2ca02c","#1f77b4"]},"legend":null},
     "detail":{"field":"s"}}},
   {"data":{"values":[{}]},"mark":{"type":"rule","strokeDash":[3.7,1.6],"color":"#000","strokeWidth":1},"encoding":{"x":{"datum":0,"type":"quantitative","axis":{"orient":"top","ticks":false,"labels":false,"title":"SOC","titlePadding":7,"titleFontSize":15.5}}}},
   {"data":{"values":[{}]},"mark":{"type":"rule","strokeDash":[3.7,1.6],"color":"#000","strokeWidth":1},"encoding":{"y":{"datum":0,"type":"quantitative"}}}
  ]},
 {"width":231,"height":188,"title":{"text":"e","dx":-18,"dy":29},"resolve":{"axis":{"x":"independent"}},
  "layer":[
   {"data":{"name":"E"},"mark":{"type":"line","interpolate":"monotone","clip":true,"strokeWidth":1.5},
    "encoding":{"x":{"field":"k","type":"quantitative","scale":{"domain":[-0.433,0.433],"nice":false,"zero":false},"axis":{"values":[-0.4,0,0.4],"ticks":false,"labelPadding":3,"labelExpr":"datum.value == 0 ? '0' : '0.4'","title":"𝑘ᵧ ⟵ (Å⁻¹) ⟶ 𝑘ₓ"}},
     "y":{"field":"E","type":"quantitative","scale":{"domain":[-100,50],"nice":false,"zero":false},"axis":{"values":[50,0,-50,-100],"labels":false,"title":null}},
     "color":{"field":"o","type":"nominal","scale":{"domain":["dxz","dyz","dxy"],"range":["#d62728","#2ca02c","#1f77b4"]},"legend":null},
     "detail":{"field":"s"}}},
   {"data":{"values":[{}]},"mark":{"type":"rule","strokeDash":[3.7,1.6],"color":"#000","strokeWidth":1},"encoding":{"x":{"datum":0,"type":"quantitative","axis":{"orient":"top","ticks":false,"labels":false,"title":"Nematic Order","titlePadding":7,"titleFontSize":15.5}}}},
   {"data":{"values":[{}]},"mark":{"type":"rule","strokeDash":[3.7,1.6],"color":"#000","strokeWidth":1},"encoding":{"y":{"datum":0,"type":"quantitative"}}}
  ]},
 {"width":231,"height":188,"title":{"text":"g","dx":-18,"dy":29},"resolve":{"axis":{"x":"independent"}},
  "layer":[
   {"data":{"name":"G"},"mark":{"type":"line","interpolate":"monotone","clip":true,"strokeWidth":1.5},
    "encoding":{"x":{"field":"k","type":"quantitative","scale":{"domain":[-0.433,0.433],"nice":false,"zero":false},"axis":{"values":[-0.4,0,0.4],"ticks":false,"labelPadding":3,"labelExpr":"datum.value == 0 ? '0' : '0.4'","title":"𝑘ᵧ ⟵ (Å⁻¹) ⟶ 𝑘ₓ"}},
     "y":{"field":"E","type":"quantitative","scale":{"domain":[-100,50],"nice":false,"zero":false},"axis":{"values":[50,0,-50,-100],"labels":false,"title":null}},
     "color":{"field":"o","type":"nominal","scale":{"domain":["dxz","dyz","dxy"],"range":["#d62728","#2ca02c","#1f77b4"]},"legend":null},
     "detail":{"field":"s"}}},
   {"data":{"values":[{}]},"mark":{"type":"rule","strokeDash":[3.7,1.6],"color":"#000","strokeWidth":1},"encoding":{"x":{"datum":0,"type":"quantitative","axis":{"orient":"top","ticks":false,"labels":false,"title":"SOC + Nematic Order","titlePadding":7,"titleFontSize":15.5}}}},
   {"data":{"values":[{}]},"mark":{"type":"rule","strokeDash":[3.7,1.6],"color":"#000","strokeWidth":1},"encoding":{"y":{"datum":0,"type":"quantitative"}}}
  ]},
 {"width":231,"height":188,"title":{"text":"i","dx":-20,"dy":29},"resolve":{"axis":{"x":"independent"}},
  "layer":[
   {"data":{"name":"G"},"mark":{"type":"line","interpolate":"catmull-rom","clip":true,"strokeWidth":0.9,"strokeDash":[3,1.5],"color":"#808080"},
    "encoding":{"x":{"field":"k","type":"quantitative","scale":{"domain":[-0.433,0.433],"nice":false,"zero":false},"axis":null},"y":{"field":"E","type":"quantitative","scale":{"domain":[-100,50],"nice":false,"zero":false}},"detail":{"field":"b"}}},
   {"data":{"name":"GM"},"mark":{"type":"line","interpolate":"catmull-rom","clip":true,"strokeWidth":0.9,"strokeDash":[3,1.5],"color":"#808080"},
    "encoding":{"x":{"field":"k","type":"quantitative","scale":{"domain":[-0.433,0.433],"nice":false,"zero":false},"axis":null},"y":{"field":"E","type":"quantitative","scale":{"domain":[-100,50],"nice":false,"zero":false}},"detail":{"field":"b"}}},
   {"data":{"name":"I"},"mark":{"type":"line","interpolate":"monotone","clip":true},
    "encoding":{"x":{"field":"k","type":"quantitative","scale":{"domain":[-0.433,0.433],"nice":false,"zero":false},"axis":{"values":[-0.4,0,0.4],"ticks":false,"labelPadding":3,"format":".1f","title":"𝑘ₓ/ᵧ (Å⁻¹)"}},
     "y":{"field":"E","type":"quantitative","scale":{"domain":[-100,50],"nice":false,"zero":false},"axis":{"values":[50,0,-50,-100],"labels":false,"title":null}},
     "stroke":{"field":"o","type":"nominal","scale":{"domain":["α","β","γ"],"range":["#d62728","#2ca02c","#1f77b4"]},
      "legend":{"title":null,"orient":"none","legendX":1070,"legendY":1,"direction":"horizontal","symbolType":"M-0.58,0a0.58,0.58 0 1,0 1.16,0a0.58,0.58 0 1,0 -1.16,0M-0.4,0a0.4,0.4 0 1,0 0.8,0a0.4,0.4 0 1,0 -0.8,0M-0.22,0a0.22,0.22 0 1,0 0.44,0a0.22,0.22 0 1,0 -0.44,0M-0.06,0a0.06,0.06 0 1,0 0.12,0a0.06,0.06 0 1,0 -0.12,0","symbolSize":100,"symbolStrokeWidth":1.5,"labelFontSize":17,"labelFontStyle":"italic","labelOffset":8,"columnPadding":37,"padding":5,"labelColor":"#1a1a1a"}},
     "strokeWidth":{"value":1.5},
     "detail":{"field":"s"}}},
   {"data":{"values":[{}]},"mark":{"type":"rule","strokeDash":[3.7,1.6],"color":"#000","strokeWidth":1},"encoding":{"x":{"datum":0,"type":"quantitative","axis":{"orient":"top","ticks":false,"labels":false,"title":"Twinned Spectrum","titlePadding":7,"titleFontSize":15.5}}}},
   {"data":{"values":[{}]},"mark":{"type":"rule","strokeDash":[3.7,1.6],"color":"#000","strokeWidth":1},"encoding":{"y":{"datum":0,"type":"quantitative"}}}
  ]},
 {"width":231,"height":231,"title":{"text":"b","dx":-53,"dy":9},
  "layer":[
   {"data":{"name":"B"},"mark":{"type":"line","interpolate":"catmull-rom","clip":true,"strokeWidth":1.5},
    "encoding":{"x":{"field":"x","type":"quantitative","scale":{"domain":[-0.433,0.433],"nice":false,"zero":false},"axis":{"values":[-0.4,-0.2,0,0.2,0.4],"format":".1f","title":"𝑘ₓ (Å⁻¹)"}},
     "y":{"field":"y","type":"quantitative","scale":{"domain":[-0.433,0.433],"nice":false,"zero":false},"axis":{"values":[-0.4,-0.2,0,0.2,0.4],"format":".1f","title":"𝑘ᵧ (Å⁻¹)"}},
     "color":{"field":"o","type":"nominal","scale":{"domain":["dxz","dyz","dxy"],"range":["#d62728","#2ca02c","#1f77b4"]},"legend":null},
     "detail":{"field":"s"},"order":{"field":"n","type":"quantitative"}}},
   {"data":{"values":[{}]},"mark":{"type":"rule","strokeDash":[3.7,1.6],"color":"#000","strokeWidth":1},"encoding":{"x":{"datum":0,"type":"quantitative"}}},
   {"data":{"values":[{}]},"mark":{"type":"rule","strokeDash":[3.7,1.6],"color":"#000","strokeWidth":1},"encoding":{"y":{"datum":0,"type":"quantitative"}}},
   {"data":{"values":[{}]},"mark":{"type":"text","text":"Γ","fontSize":21,"color":"#1a1a1a"},"encoding":{"x":{"datum":-0.369,"type":"quantitative"},"y":{"datum":0.345,"type":"quantitative"}}}
  ]},
 {"width":231,"height":231,"title":{"text":"d","dx":-18,"dy":9},
  "layer":[
   {"data":{"name":"D"},"mark":{"type":"line","interpolate":"catmull-rom","clip":true,"strokeWidth":1.5},
    "encoding":{"x":{"field":"x","type":"quantitative","scale":{"domain":[-0.433,0.433],"nice":false,"zero":false},"axis":{"values":[-0.4,-0.2,0,0.2,0.4],"format":".1f","title":"𝑘ₓ (Å⁻¹)"}},
     "y":{"field":"y","type":"quantitative","scale":{"domain":[-0.433,0.433],"nice":false,"zero":false},"axis":{"values":[-0.4,-0.2,0,0.2,0.4],"labels":false,"title":null}},
     "color":{"field":"o","type":"nominal","scale":{"domain":["dxz","dyz","dxy"],"range":["#d62728","#2ca02c","#1f77b4"]},"legend":null},
     "detail":{"field":"s"},"order":{"field":"n","type":"quantitative"}}},
   {"data":{"values":[{}]},"mark":{"type":"rule","strokeDash":[3.7,1.6],"color":"#000","strokeWidth":1},"encoding":{"x":{"datum":0,"type":"quantitative"}}},
   {"data":{"values":[{}]},"mark":{"type":"rule","strokeDash":[3.7,1.6],"color":"#000","strokeWidth":1},"encoding":{"y":{"datum":0,"type":"quantitative"}}}
  ]},
 {"width":231,"height":231,"title":{"text":"f","dx":-18,"dy":9},
  "layer":[
   {"data":{"name":"F"},"mark":{"type":"line","interpolate":"cardinal-closed","clip":true,"strokeWidth":1.5},
    "encoding":{"x":{"field":"x","type":"quantitative","scale":{"domain":[-0.433,0.433],"nice":false,"zero":false},"axis":{"values":[-0.4,-0.2,0,0.2,0.4],"format":".1f","title":"𝑘ₓ (Å⁻¹)"}},
     "y":{"field":"y","type":"quantitative","scale":{"domain":[-0.433,0.433],"nice":false,"zero":false},"axis":{"values":[-0.4,-0.2,0,0.2,0.4],"labels":false,"title":null}},
     "color":{"field":"o","type":"nominal","scale":{"domain":["dxz","dyz","dxy"],"range":["#d62728","#2ca02c","#1f77b4"]},"legend":null},
     "detail":{"field":"s"},"order":{"field":"n","type":"quantitative"}}},
   {"data":{"values":[{}]},"mark":{"type":"rule","strokeDash":[3.7,1.6],"color":"#000","strokeWidth":1},"encoding":{"x":{"datum":0,"type":"quantitative"}}},
   {"data":{"values":[{}]},"mark":{"type":"rule","strokeDash":[3.7,1.6],"color":"#000","strokeWidth":1},"encoding":{"y":{"datum":0,"type":"quantitative"}}}
  ]},
 {"width":231,"height":231,"title":{"text":"h","dx":-18,"dy":9},
  "layer":[
   {"data":{"name":"H"},"mark":{"type":"line","interpolate":"cardinal-closed","clip":true,"strokeWidth":1.5},
    "encoding":{"x":{"field":"x","type":"quantitative","scale":{"domain":[-0.433,0.433],"nice":false,"zero":false},"axis":{"values":[-0.4,-0.2,0,0.2,0.4],"format":".1f","title":"𝑘ₓ (Å⁻¹)"}},
     "y":{"field":"y","type":"quantitative","scale":{"domain":[-0.433,0.433],"nice":false,"zero":false},"axis":{"values":[-0.4,-0.2,0,0.2,0.4],"labels":false,"title":null}},
     "color":{"field":"o","type":"nominal","scale":{"domain":["dxz","dyz","dxy"],"range":["#d62728","#2ca02c","#1f77b4"]},"legend":null},
     "detail":{"field":"s"},"order":{"field":"n","type":"quantitative"}}},
   {"data":{"name":"H2"},"mark":{"type":"line","interpolate":"catmull-rom","clip":true,"strokeWidth":1.5},
    "encoding":{"x":{"field":"x","type":"quantitative","scale":{"domain":[-0.433,0.433],"nice":false,"zero":false},"axis":{"values":[-0.4,-0.2,0,0.2,0.4],"format":".1f","title":"𝑘ₓ (Å⁻¹)"}},
     "y":{"field":"y","type":"quantitative","scale":{"domain":[-0.433,0.433],"nice":false,"zero":false},"axis":{"values":[-0.4,-0.2,0,0.2,0.4],"labels":false,"title":null}},
     "color":{"field":"o","type":"nominal","scale":{"domain":["dxz","dyz","dxy"],"range":["#d62728","#2ca02c","#1f77b4"]},"legend":null},
     "detail":{"field":"s"},"order":{"field":"n","type":"quantitative"}}},
   {"data":{"values":[{}]},"mark":{"type":"rule","strokeDash":[3.7,1.6],"color":"#000","strokeWidth":1},"encoding":{"x":{"datum":0,"type":"quantitative"}}},
   {"data":{"values":[{}]},"mark":{"type":"rule","strokeDash":[3.7,1.6],"color":"#000","strokeWidth":1},"encoding":{"y":{"datum":0,"type":"quantitative"}}}
  ]},
 {"width":231,"height":231,"title":{"text":"j","dx":-20,"dy":9},
  "layer":[
   {"data":{"name":"H"},"mark":{"type":"line","interpolate":"cardinal-closed","clip":true,"strokeWidth":0.9,"strokeDash":[3,1.5],"color":"#808080"},
    "encoding":{"x":{"field":"x","type":"quantitative","scale":{"domain":[-0.433,0.433],"nice":false,"zero":false},"axis":{"values":[-0.4,-0.2,0,0.2,0.4],"format":".1f","title":"𝑘ₓ (Å⁻¹)"}},
     "y":{"field":"y","type":"quantitative","scale":{"domain":[-0.433,0.433],"nice":false,"zero":false},"axis":{"values":[-0.4,-0.2,0,0.2,0.4],"labels":false,"title":null}},
     "detail":{"field":"s"},"order":{"field":"n","type":"quantitative"}}},
   {"data":{"name":"H"},"mark":{"type":"line","interpolate":"cardinal-closed","clip":true,"strokeWidth":0.9,"strokeDash":[3,1.5],"color":"#808080"},
    "encoding":{"x":{"field":"y","type":"quantitative","scale":{"domain":[-0.433,0.433],"nice":false,"zero":false},"axis":{"values":[-0.4,-0.2,0,0.2,0.4],"format":".1f","title":"𝑘ₓ (Å⁻¹)"}},
     "y":{"field":"x","type":"quantitative","scale":{"domain":[-0.433,0.433],"nice":false,"zero":false},"axis":{"values":[-0.4,-0.2,0,0.2,0.4],"labels":false,"title":null}},
     "detail":{"field":"s"},"order":{"field":"n","type":"quantitative"}}},
   {"data":{"name":"J"},"mark":{"type":"line","interpolate":"cardinal-closed","clip":true,"strokeWidth":1.5},
    "encoding":{"x":{"field":"x","type":"quantitative","scale":{"domain":[-0.433,0.433],"nice":false,"zero":false},"axis":{"values":[-0.4,-0.2,0,0.2,0.4],"format":".1f","title":"𝑘ₓ (Å⁻¹)"}},
     "y":{"field":"y","type":"quantitative","scale":{"domain":[-0.433,0.433],"nice":false,"zero":false},"axis":{"values":[-0.4,-0.2,0,0.2,0.4],"labels":false,"title":null}},
     "stroke":{"field":"o","type":"nominal","scale":{"domain":["α","β","γ"],"range":["#d62728","#2ca02c","#1f77b4"]},"legend":null},
     "detail":{"field":"s"},"order":{"field":"n","type":"quantitative"}}},
   {"data":{"values":[{}]},"mark":{"type":"rule","strokeDash":[3.7,1.6],"color":"#000","strokeWidth":1},"encoding":{"x":{"datum":0,"type":"quantitative"}}},
   {"data":{"values":[{}]},"mark":{"type":"rule","strokeDash":[3.7,1.6],"color":"#000","strokeWidth":1},"encoding":{"y":{"datum":0,"type":"quantitative"}}}
  ]}
 ]}
],
"config":{
 "font":"DejaVu Sans",
 "view":{"stroke":"#1a1a1a","strokeWidth":1.1},
 "axis":{"grid":false,"domain":false,"tickColor":"#1a1a1a","tickSize":3.5,"tickWidth":1,"labelFontSize":13.5,"labelColor":"#1a1a1a","labelPadding":2,"labelFlush":false,"labelOverlap":false,"titleFontSize":17,"titleFontWeight":"normal","titleColor":"#1a1a1a","titlePadding":4},
 "axisY":{"labelPadding":1},
 "title":{"fontSize":17,"fontWeight":"bold","anchor":"start","frame":"group","baseline":"alphabetic","offset":0,"color":"#000"}
}
}
